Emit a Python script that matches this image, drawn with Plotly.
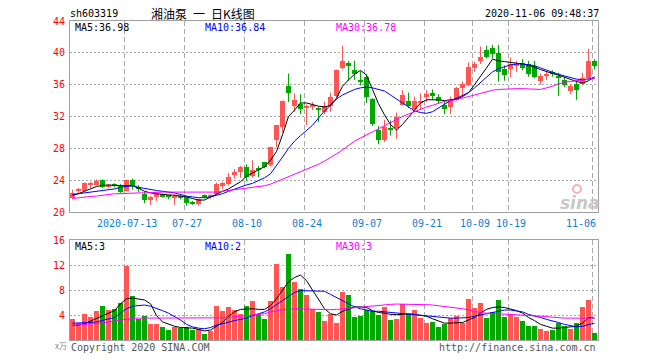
import plotly.graph_objects as go

# ---------------- data ----------------
opens = [21.8, 22.6, 22.7, 23.4, 23.4, 24.0, 23.2, 23.5, 23.3, 22.7,
         24.0, 23.2, 22.3, 21.5, 21.9, 22.2, 22.0, 21.7, 22.0, 21.9,
         21.2, 21.0, 22.0, 21.9, 22.3, 23.3, 23.5, 24.6, 25.0, 25.7,
         24.5, 25.5, 26.3, 25.9, 29.0, 30.7, 35.8, 33.3, 33.6, 33.1,
         33.2, 33.1, 32.6, 33.3, 34.6, 38.1, 38.7, 37.8, 36.6, 37.0,
         34.2, 30.3, 29.0, 30.6, 30.5, 33.5, 34.0, 33.0, 33.8, 34.4,
         35.0, 34.5, 33.5, 33.2, 34.1, 35.6, 35.9, 38.1, 39.0, 40.3,
         40.6, 40.0, 38.0, 38.0, 38.4, 38.7, 38.6, 38.4, 36.4, 37.1,
         37.6, 37.0, 36.6, 35.2, 36.1, 36.1, 36.9, 39.0]
highs = [22.8, 23.0, 23.7, 23.8, 24.1, 24.1, 23.5, 23.6, 23.5, 24.1,
         24.2, 23.4, 22.5, 22.0, 22.3, 22.3, 22.1, 22.2, 22.2, 22.0,
         21.4, 21.7, 22.2, 22.2, 23.7, 23.8, 24.9, 25.4, 25.8, 26.0,
         26.5, 25.8, 26.3, 28.2, 30.9, 34.0, 37.4, 34.9, 34.8, 33.5,
         33.8, 33.2, 33.9, 35.0, 37.9, 40.9, 39.0, 39.0, 37.7, 37.3,
         34.3, 30.8, 31.6, 31.5, 32.5, 35.3, 35.0, 34.5, 34.9, 35.3,
         35.4, 34.8, 34.0, 34.5, 35.7, 36.4, 38.8, 38.9, 40.8, 40.9,
         41.0, 41.0, 38.4, 39.4, 39.0, 39.2, 39.0, 39.0, 37.4, 37.6,
         37.8, 37.5, 37.0, 36.1, 36.5, 37.5, 40.5, 39.2]
lows = [21.6, 22.4, 22.6, 23.0, 23.3, 23.0, 23.0, 23.1, 22.4, 22.6,
        22.8, 22.5, 21.1, 20.9, 21.4, 21.8, 21.6, 20.9, 21.6, 20.8,
        20.9, 20.8, 21.7, 21.7, 22.2, 22.9, 23.4, 24.2, 24.3, 23.9,
        24.3, 24.4, 25.5, 25.7, 28.1, 30.0, 33.8, 32.6, 32.3, 30.9,
        32.8, 31.3, 32.3, 32.6, 34.4, 37.9, 36.5, 36.6, 35.9, 33.7,
        30.8, 28.5, 28.8, 29.6, 29.2, 33.4, 33.1, 32.6, 32.9, 33.8,
        34.1, 33.6, 32.3, 32.3, 34.0, 34.4, 35.8, 37.6, 38.6, 39.3,
        39.3, 36.4, 36.5, 36.9, 37.6, 37.8, 37.0, 36.8, 36.0, 36.6,
        37.0, 34.6, 35.7, 34.8, 34.1, 35.9, 36.7, 37.9]
closes = [22.4, 22.9, 23.6, 23.5, 23.9, 23.2, 23.4, 23.3, 22.5, 24.0,
          23.3, 22.9, 21.5, 21.9, 22.2, 22.0, 21.9, 22.0, 21.8, 21.1,
          21.1, 21.6, 21.9, 22.0, 23.5, 23.6, 24.4, 25.0, 25.6, 24.4,
          25.3, 25.3, 25.6, 28.2, 30.9, 34.0, 35.0, 34.1, 32.9, 33.3,
          33.5, 32.8, 33.3, 34.5, 37.9, 39.0, 38.3, 37.3, 36.4, 34.5,
          31.0, 29.0, 30.7, 30.4, 32.0, 34.7, 33.3, 33.9, 34.0, 34.8,
          34.6, 33.9, 32.9, 34.1, 35.6, 36.1, 38.2, 38.6, 39.5, 39.5,
          39.8, 37.6, 37.2, 38.6, 38.6, 38.1, 37.3, 37.0, 37.1, 37.3,
          37.4, 36.9, 35.9, 35.8, 35.3, 36.9, 39.0, 38.3]
ma5 = [22.1, 22.3, 22.6, 22.9, 23.2, 23.35, 23.4, 23.35, 23.3, 23.3,
       23.3, 23.0, 22.6, 22.4, 22.3, 22.2, 22.15, 22.1, 22.0, 21.9,
       21.7, 21.5, 21.5, 21.9, 22.3, 22.6, 22.9, 23.3, 23.8, 24.5,
       24.9, 25.3, 25.7, 26.5, 27.6, 29.7, 32.0, 32.8, 33.7, 33.7,
       33.5, 33.3, 33.2, 33.4, 34.3, 35.8, 36.6, 37.3, 37.8, 37.2,
       35.4, 33.6, 32.2, 31.0, 30.3, 31.0, 31.9, 32.8, 33.7, 34.1,
       34.1, 34.1, 34.0, 34.1, 34.2, 34.5, 35.0, 36.0, 37.0, 38.1,
       39.2, 39.0, 38.9, 38.8, 38.7, 38.6, 38.4, 38.2, 37.9, 37.6,
       37.4, 37.2, 36.9, 36.6, 36.4, 36.2, 36.5, 36.98]
ma10 = [22.2, 22.3, 22.4, 22.5, 22.6, 22.7, 22.8, 22.9, 23.1, 23.2,
        23.3, 23.1, 22.95, 22.8, 22.7, 22.6, 22.5, 22.4, 22.2, 22.0,
        21.9, 21.8, 21.8, 21.9, 22.1, 22.3, 22.6, 22.9, 23.2, 23.4,
        23.6, 23.9, 24.3, 24.8, 25.8, 26.9, 28.0, 28.9, 29.6, 30.3,
        30.9, 31.8, 32.7, 33.4, 34.2, 34.7, 35.1, 35.4, 35.6, 35.7,
        35.6, 35.4, 35.2, 34.7, 34.2, 33.7, 33.2, 32.7, 32.5, 32.4,
        32.6, 33.1, 33.5, 34.0, 34.3, 34.6, 35.0, 35.6, 36.3, 37.0,
        37.6, 38.0, 38.3, 38.5, 38.6, 38.6, 38.5, 38.4, 38.1, 37.8,
        37.5, 37.3, 37.1, 36.9, 36.7, 36.6, 36.7, 36.84]
ma30 = [21.7, 21.8, 21.9, 21.95, 22.0, 22.1, 22.2, 22.3, 22.3, 22.35,
        22.4, 22.4, 22.4, 22.45, 22.45, 22.5, 22.5, 22.5, 22.5, 22.5,
        22.5, 22.5, 22.5, 22.5, 22.5, 22.6, 22.7, 22.8, 22.85, 22.95,
        23.05, 23.15, 23.3, 23.5, 23.8, 24.1, 24.5, 24.8, 25.0, 25.3,
        25.6, 26.0, 26.4, 26.8, 27.3, 27.8, 28.4, 28.9, 29.3, 29.7,
        30.1, 30.5, 30.9, 31.3, 31.6, 32.0, 32.3, 32.6, 32.9, 33.2,
        33.4, 33.7, 33.9, 34.0, 34.1, 34.3, 34.5, 34.7, 34.9, 35.1,
        35.3, 35.4, 35.45, 35.5, 35.5, 35.5, 35.45, 35.4, 35.4, 35.6,
        35.8, 36.1, 36.3, 36.4, 36.5, 36.6, 36.7, 36.78]

volume = [3.4, 2.8, 4.2, 3.7, 4.7, 5.4, 4.8, 5.0, 5.9, 11.9,
          7.0, 3.4, 3.9, 2.6, 2.6, 2.1, 1.6, 2.1, 2.0, 2.1,
          1.6, 1.8, 1.0, 1.4, 5.4, 4.7, 5.3, 4.8, 4.2, 5.4,
          6.3, 4.1, 3.4, 6.3, 12.2, 8.5, 13.8, 9.3, 8.2, 7.2,
          5.0, 4.5, 3.1, 4.1, 2.7, 7.7, 7.2, 3.7, 3.9, 4.8,
          4.6, 4.0, 5.3, 3.2, 3.4, 5.8, 4.2, 4.8, 3.6, 2.7,
          2.9, 2.1, 2.5, 3.5, 3.9, 2.8, 6.6, 5.1, 5.9, 3.6,
          4.5, 6.4, 3.7, 4.2, 3.7, 3.0, 2.2, 2.2, 1.8, 1.4,
          1.6, 2.7, 2.3, 1.8, 2.7, 5.3, 6.4, 1.1]
vol_ma5 = [2.35, 2.4, 2.6, 3.0, 3.5, 3.9, 4.3, 4.7, 5.8, 6.6,
           6.7, 6.6, 6.4, 5.8, 3.9, 2.9, 2.5, 2.2, 2.0, 1.95,
           1.9, 1.7, 1.45, 1.6, 2.2, 2.8, 3.8, 4.5, 4.9, 5.0,
           5.0, 4.9, 4.9, 5.5, 6.6, 8.0, 9.3, 10.0, 10.4, 9.5,
           8.0, 6.4, 5.0, 4.2, 4.0, 4.6, 5.0, 5.3, 5.3, 5.2,
           4.7, 4.4, 4.3, 4.1, 4.05, 4.1, 4.2, 4.1, 4.0, 3.8,
           3.4, 3.0, 2.7, 2.7, 2.7, 2.8, 3.2, 3.6, 4.3, 4.9,
           5.2, 5.3, 5.2, 5.0, 4.7, 4.3, 3.6, 3.1, 2.5, 2.2,
           1.9, 1.9, 2.0, 2.1, 2.2, 2.7, 3.6, 3.5]
vol_ma10 = [2.7, 2.7, 2.7, 2.8, 2.9, 3.1, 3.4, 3.6, 4.3, 5.0,
            5.4, 5.5, 5.6, 5.4, 5.1, 4.7, 4.3, 3.8, 3.2, 2.5,
            2.1, 1.9, 1.8, 2.0, 2.4, 2.6, 2.9, 3.1, 3.3, 3.5,
            3.9, 4.2, 4.5, 5.0, 5.6, 6.3, 7.0, 7.6, 7.9, 7.9,
            7.9, 7.9, 7.8, 7.3, 6.8, 6.3, 5.8, 5.3, 5.0, 4.8,
            4.6, 4.6, 4.5, 4.4, 4.4, 4.3, 4.2, 4.1, 4.0, 3.9,
            3.7, 3.6, 3.5, 3.5, 3.5, 3.5, 3.6, 3.8, 4.0, 4.2,
            4.5, 4.7, 4.8, 4.8, 4.7, 4.5, 4.1, 3.9, 3.6, 3.3,
            3.1, 2.8, 2.5, 2.3, 2.1, 2.2, 2.5, 2.7]
vol_ma30 = [2.35, 2.4, 2.5, 2.55, 2.65, 2.75, 2.9, 3.05, 3.2, 3.4,
            3.45, 3.5, 3.5, 3.5, 3.5, 3.5, 3.5, 3.5, 3.5, 3.5,
            3.5, 3.5, 3.45, 3.45, 3.5, 3.55, 3.6, 3.7, 3.8, 3.9,
            4.0, 4.1, 4.2, 4.5, 4.7, 4.85, 4.9, 5.0, 5.0, 4.95,
            4.9, 4.85, 4.85, 4.85, 4.9, 5.0, 5.1, 5.2, 5.3, 5.4,
            5.5, 5.6, 5.65, 5.7, 5.75, 5.75, 5.75, 5.7, 5.7, 5.65,
            5.6, 5.5, 5.4, 5.3, 5.15, 5.0, 4.85, 4.6, 4.35, 4.3,
            4.25, 4.2, 4.2, 4.15, 4.1, 4.05, 4.0, 3.95, 3.85, 3.75,
            3.65, 3.55, 3.5, 3.5, 3.5, 3.5, 3.5, 3.5]

tick_idx = [9, 19, 29, 39, 49, 59, 67, 73, 87]
tick_labels = ["2020-07-13", "07-27", "08-10", "08-24", "09-07",
               "09-21", "10-09", "10-19", "11-06"]
price_ticks = [20, 24, 28, 32, 36, 40, 44]
vol_ticks = [4, 8, 12, 16]

# ---------------- styling ----------------
RED = "#FF5555"
GREEN = "#00A800"
GRID = "#A8A8A8"
FRAME = "#A0A0A0"
MONO = "DejaVu Sans Mono"
CJK = "Noto Sans CJK SC"

n = len(closes)
idx = list(range(n))
up = [c >= o for o, c in zip(opens, closes)]
cols = [RED if u else GREEN for u in up]
body_base = [min(o, c) for o, c in zip(opens, closes)]
body_h = [max(abs(c - o), 0.13) for o, c in zip(opens, closes)]
BW = 5 / 6
OFF = 5 / 12

fig = go.Figure()


def wick_xy(flag):
    xs, ys = [], []
    for i in idx:
        if up[i] == flag:
            xs += [i, i, None]
            ys += [lows[i], highs[i], None]
    return xs, ys


for flag, col in ((True, RED), (False, GREEN)):
    wx, wy = wick_xy(flag)
    fig.add_trace(go.Scatter(x=wx, y=wy, mode="lines", line=dict(color=col, width=1),
                             hoverinfo="skip", xaxis="x", yaxis="y"))

fig.add_trace(go.Bar(x=idx, y=body_h, base=body_base, width=BW,
                     marker=dict(color=cols, line=dict(width=0)), xaxis="x", yaxis="y"))

for series, col in ((ma5, "#000000"), (ma10, "#0000FF"), (ma30, "#FF00FF")):
    fig.add_trace(go.Scatter(x=idx, y=series, mode="lines", line=dict(color=col, width=1),
                             xaxis="x", yaxis="y"))

fig.add_trace(go.Bar(x=idx, y=volume, width=BW,
                     marker=dict(color=cols, line=dict(width=0)), xaxis="x2", yaxis="y2"))
for series, col in ((vol_ma5, "#000000"), (vol_ma10, "#0000FF"), (vol_ma30, "#FF00FF")):
    fig.add_trace(go.Scatter(x=idx, y=series, mode="lines", line=dict(color=col, width=1),
                             xaxis="x2", yaxis="y2"))

# plot area in window pixels: x 70..598, y 21..340
L, R, T, B = 70, 598, 21, 340
FW, FH = 660, 360


def px(x):
    return (x - L) / (R - L)


def py(y):
    return (B - y) / (B - T)


xgrid = [i - OFF for i in tick_idx]
xcommon = dict(range=[-OFF, n - OFF], tickvals=xgrid, showticklabels=False,
               showgrid=True, gridcolor=GRID, gridwidth=1, griddash="5px,3px",
               zeroline=False, showline=True, mirror=True, linecolor=FRAME, linewidth=1,
               ticks="", fixedrange=True)
ycommon = dict(showgrid=True, gridcolor=GRID, gridwidth=1, griddash="2px,2px",
               zeroline=False, showline=True, mirror=True, linecolor=FRAME, linewidth=1,
               ticks="", tickfont=dict(family=MONO, size=10, color="#FF0000"),
               ticklabelstandoff=2, fixedrange=True)

price_top = py(212)
vol_top = py(240)
fig.update_layout(
    width=FW, height=FH,
    margin=dict(l=L, r=FW - R, t=T, b=FH - B, autoexpand=False),
    paper_bgcolor="white", plot_bgcolor="white",
    showlegend=False, barmode="overlay", bargap=0,
    xaxis=dict(domain=[0, 1], anchor="y", **xcommon),
    xaxis2=dict(domain=[0, 1], anchor="y2", matches="x", **xcommon),
    yaxis=dict(domain=[price_top, 1], anchor="x", range=[20, 44],
               tickvals=price_ticks, ticktext=[str(v) for v in price_ticks], **ycommon),
    yaxis2=dict(domain=[0, vol_top], anchor="x2", range=[0, 16],
                tickvals=vol_ticks, ticktext=[str(v) for v in vol_ticks], **ycommon),
)

ann = []


def text(x, y, s, color="#000000", size=10, family=MONO, anchor="left", **kw):
    ann.append(dict(x=px(x), y=py(y), xref="paper", yref="paper", text=s, showarrow=False,
                    xanchor=anchor, yanchor="middle", borderpad=0,
                    font=dict(family=family, size=size, color=color), **kw))


text(69, 13, "sh603319")
text(150, 13, "湘油泵\u2002一\u2002日K线图", size=12, family=CJK)
text(600, 13, "2020-11-06 09:48:37", anchor="right")

text(74, 27.5, "MA5:36.98", "#000000")
text(204, 27.5, "MA10:36.84", "#0000FF")
text(335, 27.5, "MA30:36.78", "#FF00FF")
text(74, 246, "MA5:3", "#000000")
text(204, 246, "MA10:2", "#0000FF")
text(335, 246, "MA30:3", "#FF00FF")

for i, lab in zip(tick_idx, tick_labels):
    gx = L + (i - (-OFF)) * (R - L) / n
    if i == tick_idx[-1]:
        text(gx + 2, 223, lab, "#0A80D8", anchor="right")
    else:
        text(gx, 223, lab, "#0A80D8", anchor="center")

text(70, 347, "Copyright 2020 SINA.COM", "#555555")
text(597, 347, "http://finance.sina.com.cn", "#555555", anchor="right")
text(68, 345, "x万", "#888888", size=8, family=CJK, anchor="right")
# faint sina watermark (logo eye drawn as a ring + word)
text(580, 203, "<b><i>sina</i></b>", "#C8C8C8", size=17, family="DejaVu Sans", anchor="center")
fig.add_shape(type="circle", xref="paper", yref="paper",
              x0=px(573), x1=px(581), y0=py(193), y1=py(185),
              line=dict(color="#F4B4B4", width=2), fillcolor="rgba(0,0,0,0)")

fig.update_layout(annotations=ann)
# the page's default 8px body margin would shift the 660x360 figure; remove it
fig.write_html("out.html", config={"displayModeBar": False},
               post_script="document.body.style.margin='0px';")
